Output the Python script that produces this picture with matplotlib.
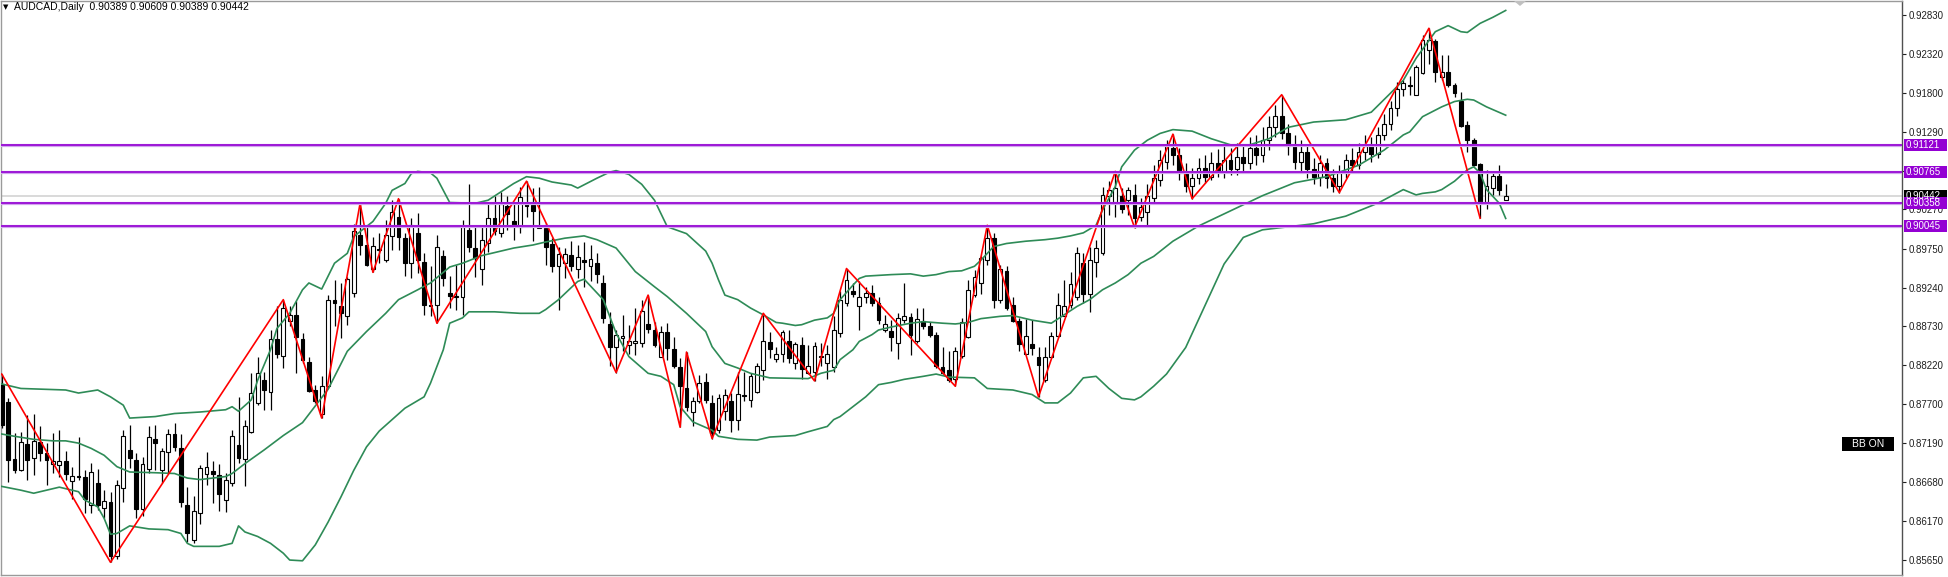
import matplotlib
matplotlib.use("Agg")
import matplotlib.pyplot as plt
from matplotlib.patches import Rectangle, Polygon
from matplotlib.transforms import blended_transform_factory
import numpy as np

# AUDCAD daily candles (bar 0 = leftmost visible bar)
opens = [
    .8796, .8773, .8698, .8683, .8718, .8699, .8721, .8706, .8692, .8690,
    .8696, .8669, .8676, .8675, .8638, .8667, .8633, .8641, .8570, .8660,
    .8710, .8697, .8632, .8685, .8725, .8684, .8707, .8731, .8712, .8637,
    .8592, .8627, .8678, .8682, .8677, .8644, .8667, .8717, .8698, .8734,
    .8772, .8802, .8786, .8856, .8834, .8880, .8888, .8856, .8826, .8789,
    .8758, .8794, .8908, .8899, .8886, .8917, .8993, .8980, .8949, .8975,
    .8960, .8992, .9017, .8989, .8956, .8996, .8957, .8901, .8901, .8966,
    .8917, .8913, .8911, .9000, .8976, .8949, .8982, .9015, .8996, .9031,
    .9012, .9004, .9035, .9033, .9003, .9002, .8981, .8952, .8956, .8967,
    .8948, .8960, .8952, .8956, .8930, .8876, .8846, .8857, .8848, .8851,
    .8851, .8876, .8868, .8833, .8865, .8843, .8819, .8791, .8760, .8774,
    .8799, .8772, .8736, .8761, .8774, .8750, .8782, .8776, .8786, .8815,
    .8852, .8830, .8837, .8853, .8825, .8848, .8811, .8813, .8833, .8824,
    .8819, .8864, .8903, .8920, .8900, .8911, .8917, .8903, .8868, .8867,
    .8851, .8881, .8885, .8853, .8880, .8873, .8861, .8819, .8815, .8803,
    .8834, .8859, .8914, .8930, .8960, .8989, .8907, .8946, .8901, .8880,
    .8837, .8850, .8833, .8802, .8833, .8860, .8887, .8901, .8912, .8956,
    .8916, .8958, .8969, .9044, .9037, .9044, .9039, .9046, .9017, .9024,
    .9042, .9066, .9090, .9108, .9098, .9075, .9058, .9068, .9082, .9070,
    .9088, .9076, .9092, .9080, .9096, .9088, .9108, .9098, .9118, .9135,
    .9150, .9128, .9110, .9090, .9102, .9080, .9070, .9088, .9068, .9058,
    .9075, .9092, .9085, .9102, .9110, .9100, .9125, .9140, .9160, .9185,
    .9191, .9178, .9207, .9237, .9249, .9201, .9208, .9191, .9170, .9138,
    .9118, .9087, .9037, .9055, .9071, .90389,
]
highs = [
    .8810, .8778, .8732, .8734, .8756, .8758, .8741, .8719, .8732, .8736,
    .8709, .8688, .8727, .8684, .8693, .8685, .8657, .8654, .8671, .8736,
    .8743, .8706, .8701, .8742, .8743, .8712, .8738, .8745, .8731, .8661,
    .8649, .8690, .8707, .8695, .8692, .8680, .8736, .8780, .8750, .8812,
    .8833, .8813, .8868, .8899, .8908, .8899, .8906, .8864, .8833, .8796,
    .8807, .8914, .8934, .8930, .8938, .9008, .9035, .9004, .8990, .8996,
    .9013, .9039, .9041, .8996, .9015, .9022, .8969, .8952, .8993, .8974,
    .8939, .8954, .9013, .9061, .9004, .9004, .9037, .9044, .9050, .9044,
    .9035, .9057, .9064, .9055, .9057, .9009, .8989, .8978, .8976, .8985,
    .8980, .8984, .8980, .8969, .8941, .8892, .8868, .8888, .8875, .8897,
    .8908, .8914, .8879, .8873, .8877, .8859, .8831, .8839, .8780, .8809,
    .8812, .8783, .8784, .8790, .8785, .8813, .8813, .8812, .8825, .8890,
    .8866, .8846, .8868, .8868, .8852, .8859, .8848, .8852, .8851, .8848,
    .8886, .8919, .8949, .8930, .8932, .8925, .8927, .8912, .8888, .8881,
    .8890, .8930, .8890, .8897, .8897, .8879, .8866, .8845, .8841, .8846,
    .8884, .8934, .8947, .8966, .9006, .8996, .8954, .8952, .8912, .8884,
    .8883, .8881, .8845, .8845, .8866, .8917, .8934, .8945, .8978, .8969,
    .8978, .8987, .9057, .9064, .9077, .9055, .9057, .9060, .9042, .9061,
    .9085, .9105, .9118, .9126, .9108, .9088, .9082, .9095, .9098, .9102,
    .9106, .9110, .9108, .9115, .9112, .9122, .9125, .9135, .9150, .9165,
    .9178, .9140, .9125, .9118, .9112, .9095, .9098, .9095, .9080, .9085,
    .9100, .9108, .9115, .9125, .9122, .9135, .9152, .9170, .9195, .9197,
    .9203, .9217, .9257, .92655, .9252, .9230, .9230, .9193, .9181, .9143,
    .9121, .9088, .9079, .9077, .9086, .90609,
]
lows = [
    .8739, .8668, .8679, .8682, .8671, .8677, .8695, .8664, .8679, .8675,
    .8671, .8646, .8671, .8627, .8627, .8631, .8620, .8562, .8567, .8642,
    .8686, .8620, .8623, .8679, .8684, .8666, .8679, .8708, .8635, .8589,
    .8587, .8613, .8664, .8640, .8629, .8628, .8662, .8693, .8662, .8732,
    .8769, .8763, .8763, .8831, .8818, .8873, .8812, .8824, .8787, .8772,
    .8752, .8791, .8873, .8857, .8875, .8912, .8967, .8952, .8944, .8956,
    .8958, .8974, .8974, .8939, .8936, .8943, .8888, .8886, .8877, .8926,
    .8897, .8895, .8888, .8971, .8938, .8927, .8971, .8993, .8990, .9000,
    .8987, .8996, .9017, .8985, .9002, .8954, .8945, .8895, .8936, .8946,
    .8936, .8925, .8932, .8930, .8877, .8820, .8812, .8840, .8837, .8835,
    .8846, .8864, .8846, .8832, .8829, .8818, .8740, .8761, .8741, .8772,
    .8772, .8725, .8733, .8750, .8734, .8736, .8774, .8767, .8785, .8802,
    .8831, .8826, .8826, .8824, .8816, .8803, .8810, .8801, .8820, .8803,
    .8813, .8859, .8899, .8912, .8868, .8903, .8899, .8876, .8866, .8840,
    .8830, .8877, .8835, .8851, .8870, .8859, .8818, .8810, .8800, .8794,
    .8831, .8857, .8912, .8916, .8954, .8897, .8904, .8895, .8879, .8840,
    .8837, .8835, .8780, .8800, .8831, .8859, .8886, .8897, .8908, .8903,
    .8892, .8938, .8967, .9020, .9017, .9022, .9020, .9003, .9011, .9004,
    .9035, .9058, .9080, .9085, .9065, .9050, .9041, .9060, .9062, .9065,
    .9070, .9068, .9072, .9072, .9075, .9080, .9085, .9090, .9105, .9122,
    .9120, .9098, .9080, .9075, .9068, .9060, .9058, .9055, .9050, .9049,
    .9068, .9078, .9080, .9092, .9090, .9095, .9118, .9132, .9150, .9176,
    .9178, .9177, .9205, .9219, .9195, .9197, .9188, .9175, .9136, .9103,
    .9084, .90153, .9027, .9046, .9046, .90389,
]
closes = [
    .8743, .8697, .8683, .8721, .8697, .8722, .8706, .8697, .8696, .8695,
    .8678, .8676, .8675, .8646, .8681, .8638, .8643, .8570, .8664, .8728,
    .8699, .8632, .8692, .8727, .8719, .8708, .8731, .8714, .8641, .8600,
    .8629, .8686, .8687, .8678, .8652, .8671, .8728, .8700, .8741, .8785,
    .8811, .8789, .8856, .8837, .8897, .8888, .8859, .8828, .8788, .8774,
    .8794, .8908, .8903, .8890, .8935, .8998, .8980, .8954, .8979, .8974,
    .8993, .9024, .8990, .8956, .9006, .8960, .8901, .8899, .8977, .8936,
    .8913, .8912, .9004, .8977, .8963, .8986, .9015, .8998, .9034, .9021,
    .9005, .9043, .9032, .9025, .9005, .8978, .8952, .8968, .8968, .8953,
    .8964, .8957, .8961, .8942, .8884, .8846, .8862, .8860, .8853, .8854,
    .8893, .8869, .8848, .8865, .8844, .8820, .8794, .8766, .8775, .8798,
    .8776, .8733, .8779, .8782, .8750, .8784, .8781, .8808, .8820, .8854,
    .8843, .8837, .8865, .8831, .8850, .8816, .8820, .8847, .8834, .8837,
    .8868, .8908, .8934, .8915, .8912, .8917, .8903, .8881, .8876, .8859,
    .8884, .8887, .8862, .8882, .8873, .8862, .8820, .8812, .8802, .8840,
    .8878, .8921, .8938, .8963, .8989, .8908, .8948, .8897, .8880, .8849,
    .8860, .8844, .8822, .8833, .8860, .8901, .8900, .8929, .8969, .8916,
    .8960, .8976, .9046, .9053, .9055, .9027, .9053, .9015, .9030, .9044,
    .9068, .9092, .9110, .9098, .9075, .9058, .9068, .9082, .9070, .9088,
    .9076, .9092, .9080, .9096, .9088, .9108, .9098, .9118, .9135, .9150,
    .9128, .9110, .9090, .9102, .9080, .9070, .9088, .9068, .9058, .9075,
    .9092, .9085, .9102, .9110, .9100, .9125, .9140, .9160, .9185, .9193,
    .9190, .9215, .9250, .9250, .9208, .9208, .9191, .9180, .9137, .9118,
    .9086, .9036, .9058, .9071, .9053, .90442,
]

# Bollinger bands, read as (bar, price) vertices
bb_upper_bar = [0, 3, 10, 12, 15, 17, 19, 20, 24, 27, 31, 35, 36, 37, 39, 40, 42, 43, 45, 47,
                48, 50, 52, 54, 55, 58, 60, 61, 63, 64, 65, 67, 68, 69, 70, 74, 76, 78, 80, 82,
                84, 86, 89, 90, 93, 95, 96, 98, 100, 102, 104, 107, 110, 111, 112, 113, 115, 117, 119, 121,
                122, 124, 125, 127, 129, 130, 131, 133, 134, 135, 139, 142, 144, 146, 148, 150, 152, 153, 155, 157,
                160, 163, 165, 167, 169, 171, 172, 174, 175, 177, 179, 181, 183, 186, 189, 192, 195, 198, 201, 205,
                210, 214, 217, 219, 221, 224, 226, 228, 229, 231, 233, 235]
bb_upper_val = [.8797, .8791, .8789, .8785, .8789, .8780, .8769, .8752, .8754, .8758, .8760, .8763, .8767, .8761, .8776, .8802, .8842, .8870, .8890, .8921,
                .8930, .8922, .8956, .8969, .8991, .9011, .9035, .9052, .9061, .9074, .9077, .9075, .9068, .9052, .9036, .9035, .9039, .9050, .9061, .9070,
                .9068, .9063, .9059, .9055, .9068, .9076, .9078, .9073, .9060, .9039, .9004, .8995, .8972, .8956, .8934, .8914, .8908, .8897, .8888, .8878,
                .8877, .8874, .8875, .8881, .8884, .8890, .8908, .8927, .8936, .8939, .8941, .8942, .8939, .8941, .8945, .8946, .8952, .8960, .8978, .8982,
                .8985, .8987, .8989, .8992, .8996, .9006, .9026, .9057, .9083, .9105, .9118, .9127, .9132, .9130, .9120, .9112, .9112, .9120, .9135, .9142,
                .9145, .9155, .9180, .9197, .9226, .9261, .9269, .9261, .9260, .9272, .9280, .9289]

bb_mid_bar = [0, 2, 5, 8, 10, 12, 14, 16, 18, 20, 24, 27, 29, 31, 35, 36, 38, 41, 44, 47,
              51, 54, 57, 60, 62, 65, 67, 70, 72, 75, 80, 83, 85, 88, 91, 93, 96, 99, 102, 104,
              107, 110, 111, 113, 115, 117, 120, 126, 128, 130, 131, 133, 134, 136, 137, 139, 142, 144, 147, 149,
              151, 153, 156, 158, 161, 164, 166, 168, 170, 172, 174, 176, 178, 180, 183, 187, 192, 197, 202, 207,
              212, 216, 219, 220, 222, 225, 227, 229, 230, 232, 235]
bb_mid_val = [.8731, .8728, .8724, .8722, .8722, .8719, .8712, .8703, .8688, .8681, .8680, .8679, .8673, .8671, .8675, .8679, .8692, .8710, .8729, .8746,
              .8790, .8840, .8866, .8890, .8908, .8921, .8930, .8951, .8956, .8966, .8976, .8980, .8984, .8989, .8992, .8987, .8976, .8945, .8925, .8912,
              .8890, .8866, .8846, .8824, .8818, .8811, .8805, .8804, .8811, .8815, .8829, .8842, .8853, .8862, .8868, .8872, .8877, .8879, .8877, .8876,
              .8878, .8883, .8886, .8887, .8881, .8877, .8888, .8899, .8908, .8921, .8930, .8941, .8956, .8965, .8985, .9005, .9025, .9045, .9062, .9070,
              .9085, .9105, .9125, .9129, .9149, .9162, .9169, .9172, .9171, .9162, .9151]

bb_lower_bar = [0, 3, 5, 7, 9, 12, 13, 15, 16, 17, 18, 20, 23, 26, 28, 29, 30, 34, 36, 37,
                38, 40, 42, 44, 45, 47, 49, 51, 53, 55, 57, 59, 61, 63, 66, 67, 69, 70, 72, 73,
                77, 81, 84, 85, 87, 88, 90, 91, 94, 96, 98, 101, 103, 105, 106, 108, 111, 112, 115, 118,
                120, 124, 126, 129, 130, 131, 133, 135, 137, 139, 141, 144, 146, 148, 152, 154, 158, 161, 163, 165,
                167, 169, 171, 173, 175, 177, 178, 180, 182, 185, 188, 191, 194, 197, 200, 205, 210, 215, 219, 221,
                222, 224, 225, 227, 229, 230, 231, 232, 234, 235]
bb_lower_val = [.8662, .8657, .8653, .8657, .8661, .8655, .8644, .8635, .8620, .8599, .8600, .8610, .8606, .8605, .8600, .8587, .8583, .8583, .8587, .8610,
                .8602, .8596, .8587, .8574, .8565, .8564, .8585, .8615, .8648, .8683, .8714, .8735, .8750, .8765, .8780, .8798, .8842, .8877, .8884, .8892,
                .8892, .8890, .8890, .8895, .8908, .8916, .8932, .8935, .8908, .8864, .8833, .8811, .8807, .8796, .8767, .8747, .8736, .8728, .8724, .8723,
                .8727, .8729, .8734, .8741, .8750, .8754, .8767, .8780, .8796, .8799, .8803, .8807, .8810, .8806, .8805, .8791, .8789, .8783, .8772, .8772,
                .8785, .8805, .8807, .8791, .8778, .8776, .8780, .8794, .8810, .8845, .8900, .8955, .8990, .9000, .9003, .9008, .9018, .9035, .9053, .9046,
                .9048, .9050, .9053, .9064, .9079, .9083, .9075, .9053, .9035, .9015]

# ZigZag turning points
zz_bar = [0, 17, 44, 50, 56, 58, 62, 68, 82, 96, 101, 106, 107, 111, 119, 127, 132, 149,
          154, 162, 174, 177, 183, 186, 200, 209, 223, 231]
zz_val = [.8810, .8562, .8908, .8752, .9035, .8944, .9041, .8877, .9064, .8812, .8914, .8740,
          .8839, .8725, .8890, .8801, .8949, .8794, .9006, .8780, .9077, .9003, .9126, .9041,
          .9178, .9049, .92655, .90153]

# horizontal levels and price scale
levels = [0.91121, 0.90765, 0.90358, 0.90045]
last_price = 0.90442
price_ticks = [0.92830, 0.92320, 0.91800, 0.91290, 0.90780, 0.90270, 0.89750,
               0.89240, 0.88730, 0.88220, 0.87700, 0.87190, 0.86680, 0.86170, 0.85650]

W, H = 1948, 577
PX_PER_PRICE = 7591.0       # vertical scale of the screenshot
BAR_PX = 6.4                # bar spacing in pixels
FONT = "Liberation Sans"
PURPLE = "#9400D3"
GREEN = "#2E8B57"


def price_at(ypx):
    return 0.92830 - (ypx - 15) / PX_PER_PRICE


fig = plt.figure(figsize=(W / 100, H / 100), dpi=100)
ax = fig.add_axes([1 / W, 2 / H, 1901 / W, 574 / H])
ax.set_xlim((1 - 1.7) / BAR_PX, (1902 - 1.7) / BAR_PX)
ax.set_ylim(price_at(575), price_at(1))

o = np.array(opens)
hi = np.array(highs)
lo = np.array(lows)
c = np.array(closes)
x = np.arange(len(o))
up = c >= o

# current price line
ax.axhline(last_price, color="#d9d9d9", lw=1.4, zorder=1)

# candles
ax.vlines(x, lo, hi, color="black", lw=0.9, zorder=3)
body_lo = np.minimum(o, c)
body_h = np.abs(c - o)
ax.bar(x[up], body_h[up], bottom=body_lo[up], width=0.58, color="white",
       edgecolor="black", lw=0.8, zorder=4)
ax.bar(x[~up], body_h[~up], bottom=body_lo[~up], width=0.58, color="black",
       edgecolor="black", lw=0.8, zorder=4)

# bollinger bands
for bx, bv in [(bb_upper_bar, bb_upper_val), (bb_mid_bar, bb_mid_val), (bb_lower_bar, bb_lower_val)]:
    ax.plot(bx, bv, color=GREEN, lw=1.2, zorder=5)

# zigzag
ax.plot(zz_bar, zz_val, color="red", lw=1.2, zorder=6)

# horizontal levels
for lv in levels:
    ax.axhline(lv, color="#d2a6ee", lw=2.3, zorder=6)
    ax.axhline(lv, color=PURPLE, lw=1.2, zorder=7)

# axes look
for side in ["left", "top", "bottom"]:
    ax.spines[side].set_color("#9a9a9a")
    ax.spines[side].set_linewidth(1.0)
ax.spines["right"].set_color("#505050")
ax.spines["right"].set_linewidth(1.0)
ax.set_xticks([])
ax.yaxis.tick_right()
ax.set_yticks(price_ticks)
ax.set_yticklabels([f"{t:.5f}" for t in price_ticks], family=FONT, fontsize=7)
ax.tick_params(axis="y", direction="out", length=3, width=0.8, pad=2, colors="#202020")

# price boxes on the right scale
trans = blended_transform_factory(ax.transAxes, ax.transData)
box_x0 = 1.0 + 1.5 / 1901
box_w = 43 / 1901
box_h = 12 / PX_PER_PRICE


def price_box(val, face):
    ax.add_patch(Rectangle((box_x0, val - box_h / 2), box_w, box_h, transform=trans,
                           facecolor=face, edgecolor="none", clip_on=False, zorder=20))
    ax.text(box_x0 + 2.5 / 1901, val, f"{val:.5f}", transform=trans, color="white",
            family=FONT, fontsize=7, va="center", ha="left", clip_on=False, zorder=21)


price_box(last_price, "black")
for lv in levels:
    price_box(lv, PURPLE)

# title line
fig.text(3 / W, 1 - 7 / H, "\u25bc", fontsize=5, va="center", ha="left", color="black")
fig.text(14 / W, 1 - 7 / H, "AUDCAD,Daily  0.90389 0.90609 0.90389 0.90442",
         family=FONT, fontsize=7.5, va="center", ha="left", color="black")

# "BB ON" badge
fig.add_artist(Rectangle((1842 / W, 1 - 451 / H), 52 / W, 14 / H, transform=fig.transFigure,
                         facecolor="black", edgecolor="none"))
fig.text(1868 / W, 1 - 444 / H, "BB ON", family=FONT, fontsize=7.5, color="white",
         ha="center", va="center")

# chart shift marker
fig.add_artist(Polygon([[1514 / W, 1 - 1 / H], [1526 / W, 1 - 1 / H], [1520 / W, 1 - 6 / H]],
                       closed=True, transform=fig.transFigure, facecolor="#c0c0c0", edgecolor="none"))

fig.savefig("out.png", dpi=100)
